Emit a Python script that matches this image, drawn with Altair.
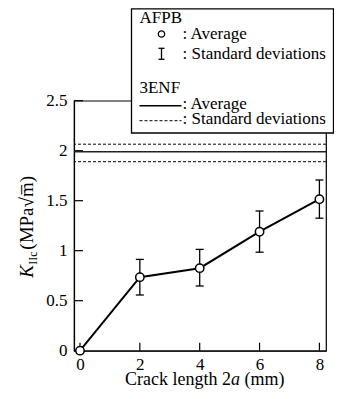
import altair as alt
import pandas as pd

# ---- data ----
crack = [0, 2, 4, 6, 8]
k_avg = [0.0, 0.735, 0.825, 1.19, 1.515]
eb_crack = [2, 4, 6, 8]
k_low = [0.557, 0.647, 0.985, 1.325]
k_high = [0.913, 1.013, 1.397, 1.707]
enf_avg = [1.99]
enf_sd = [2.065, 1.89]
x_ticks = [0, 2, 4, 6, 8]
y_ticks = [0, 0.5, 1, 1.5, 2, 2.5]

FONT = "Liberation Serif, Times New Roman, Times, serif"
W, H = 252, 250

xs = alt.Scale(domain=[-0.2, 8.22], nice=False, zero=False)
ys = alt.Scale(domain=[0, 2.5], nice=False, zero=False)
xaxis = alt.Axis(values=x_ticks, format="~g", title=None, ticks=False, grid=False,
                 labelPadding=6, labelFontSize=17, labelFont=FONT, labelColor="black",
                 domainColor="black", domainWidth=1.2, labelFlush=False, labelOverlap=False)
yaxis = alt.Axis(values=y_ticks, format="~g", title=None, ticks=False, grid=False,
                 labelPadding=7, labelFontSize=17, labelFont=FONT, labelColor="black",
                 domainColor="black", domainWidth=1.2, labelOverlap=False)


def X(f):
    return alt.X(f, type="quantitative", scale=xs, axis=xaxis)


def Y(f):
    return alt.Y(f, type="quantitative", scale=ys, axis=yaxis)


main_df = pd.DataFrame({"crack": crack, "k": k_avg})
eb_df = pd.DataFrame({"crack": eb_crack, "lo": k_low, "hi": k_high})
ann = pd.DataFrame({"d": [0]})

tick_x = alt.Chart(pd.DataFrame({"t": x_ticks})).mark_rule(color="black", strokeWidth=1.2).encode(
    x=X("t"), y=alt.value(H), y2=alt.value(H - 8))
tick_y = alt.Chart(pd.DataFrame({"t": y_ticks})).mark_rule(color="black", strokeWidth=1.2).encode(
    y=Y("t"), x=alt.value(0), x2=alt.value(9))

enf_a = alt.Chart(pd.DataFrame({"v": enf_avg})).mark_rule(color="#222", strokeWidth=1.5).encode(y=Y("v"))
enf_s = alt.Chart(pd.DataFrame({"v": enf_sd})).mark_rule(color="black", strokeWidth=1, strokeDash=[3, 2]).encode(y=Y("v"))

eb_v = alt.Chart(eb_df).mark_rule(color="black", strokeWidth=1.3).encode(x=X("crack"), y=Y("lo"), y2="hi")
eb_t = alt.Chart(eb_df).mark_rule(color="black", strokeWidth=1.3, xOffset=-4, x2Offset=4).encode(
    x=X("crack"), x2="crack", y=Y("hi"))
eb_b = alt.Chart(eb_df).mark_rule(color="black", strokeWidth=1.3, xOffset=-4, x2Offset=4).encode(
    x=X("crack"), x2="crack", y=Y("lo"))

line = alt.Chart(main_df).mark_line(color="black", strokeWidth=2).encode(x=X("crack"), y=Y("k"))
pts = alt.Chart(main_df).mark_point(shape="circle", filled=True, fill="white", stroke="black",
                                    strokeWidth=1.5, size=70, opacity=1).encode(x=X("crack"), y=Y("k"))


def txt(s, x, y, size=17, style="normal", angle=0, align="left"):
    return alt.Chart(ann).mark_text(text=s, font=FONT, fontSize=size, fontStyle=style, color="black",
                                    align=align, baseline="alphabetic", angle=angle).encode(
        x=alt.value(x), y=alt.value(y))


def rule(x1, x2, y1, y2, w=1.3, dash=None):
    kw = dict(color="black", strokeWidth=w)
    if dash:
        kw["strokeDash"] = dash
    return alt.Chart(ann).mark_rule(**kw).encode(
        x=alt.value(x1), x2=alt.value(x2), y=alt.value(y1), y2=alt.value(y2))


legend_box = alt.Chart(ann).mark_rect(fill="white", stroke="black", strokeWidth=1.3).encode(
    x=alt.value(57.5), x2=alt.value(259.5), y=alt.value(-91.8), y2=alt.value(32.3))
leg_circle = alt.Chart(ann).mark_point(shape="circle", filled=True, fill="white", stroke="black",
                                       strokeWidth=1.3, size=40, opacity=1).encode(
    x=alt.value(87.5), y=alt.value(-66.7))

layers = [
    tick_x, tick_y, enf_s, enf_a, eb_v, eb_t, eb_b, line, pts,
    legend_box,
    txt("AFPB", 65.5, -77.7),
    leg_circle,
    txt(": Average", 108.5, -61.4),
    rule(87.5, 87.5, -52.4, -41.4), rule(84.5, 90.5, -52.4, -52.4), rule(84.5, 90.5, -41.4, -41.4),
    txt(": Standard deviations", 108.5, -41.7),
    txt("3ENF", 65.5, -7.7),
    rule(65.5, 107.5, 5, 5, w=1.5),
    txt(": Average", 108.5, 8.6),
    rule(65.5, 107.5, 20, 20, w=1, dash=[3, 2]),
    txt(": Standard deviations", 108.5, 23.8),
    # y title
    txt("K", -41, 177, size=19, style="italic", angle=270),
    txt("IIc", -37.5, 164, size=12, angle=270),
    txt("(MPa√m̅)", -41, 149, size=19, angle=270),
    # x title
    txt("Crack length 2", 51, 284, size=18),
    txt("a", 157, 284, size=18, style="italic"),
    txt("(mm)", 170.5, 284, size=18),
]

chart = alt.layer(*layers).properties(
    width=W, height=H,
    padding={"left": 66, "top": 92.7, "right": 8, "bottom": 39},
    autosize=alt.AutoSizeParams(type="none"),
).configure_view(stroke="black", strokeWidth=1.2)

chart.save("out.html", embed_options={"renderer": "svg", "actions": False})
